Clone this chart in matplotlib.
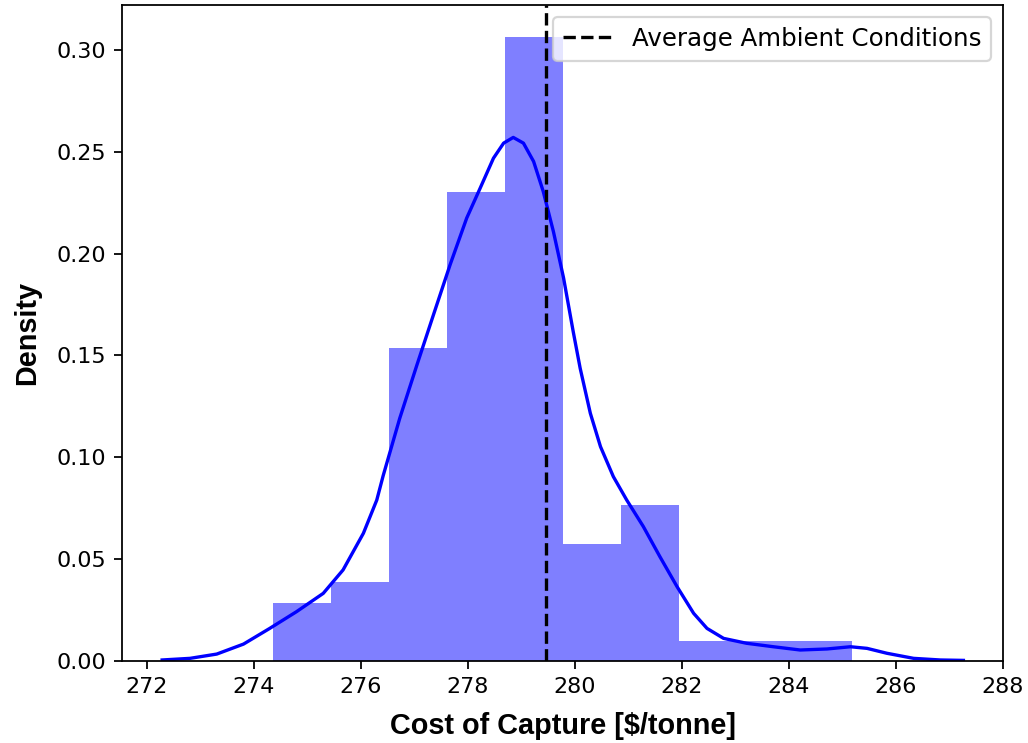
import matplotlib
matplotlib.use("Agg")
import matplotlib.pyplot as plt

# Histogram (density)
bin_edges = [274.37, 275.45, 276.53, 277.61, 278.69, 279.78, 280.86, 281.94, 283.02, 284.10, 285.18]
bin_density = [0.0287, 0.0386, 0.1537, 0.2300, 0.3064, 0.0575, 0.0766, 0.0096, 0.0096, 0.0096]

# KDE curve points
kde_x = [272.29, 272.81, 273.31, 273.81, 274.30, 274.80, 275.30, 275.67, 276.05, 276.30,
         276.42, 276.73, 277.05, 277.36, 277.67, 277.98, 278.23, 278.48, 278.67, 278.85,
         279.04, 279.23, 279.41, 279.60, 279.79, 279.97, 280.10, 280.29, 280.48, 280.72,
         280.97, 281.28, 281.59, 281.91, 282.22, 282.47, 282.78, 283.21, 283.71, 284.21,
         284.71, 285.15, 285.46, 285.83, 286.33, 286.83, 287.26]
kde_y = [0.0005, 0.0013, 0.0034, 0.0083, 0.0160, 0.0242, 0.0332, 0.0447, 0.0627, 0.0790,
         0.0910, 0.1192, 0.1453, 0.1700, 0.1945, 0.2174, 0.2320, 0.2468, 0.2542, 0.2570,
         0.2542, 0.2452, 0.2305, 0.2108, 0.1880, 0.1617, 0.1437, 0.1216, 0.1052, 0.0905,
         0.0790, 0.0660, 0.0512, 0.0365, 0.0234, 0.0160, 0.0111, 0.0087, 0.0070, 0.0054,
         0.0059, 0.0070, 0.0062, 0.0038, 0.0013, 0.0005, 0.0003]

avg_ambient = 279.46
legend_label = "Average Ambient Conditions"
x_ticks = [272, 274, 276, 278, 280, 282, 284, 286, 288]
y_ticks = [0.00, 0.05, 0.10, 0.15, 0.20, 0.25, 0.30]

fig = plt.figure(figsize=(1028/160, 743/160), dpi=160)
ax = fig.add_axes([122/1028, 1 - 661/743, (1003-122)/1028, (661-5)/743])

centers = [(a + b) / 2 for a, b in zip(bin_edges[:-1], bin_edges[1:])]
ax.hist(centers, bins=bin_edges, weights=bin_density, color="blue", alpha=0.5)
ax.plot(kde_x, kde_y, color="blue", lw=1.5, solid_joinstyle="round")
ax.axvline(avg_ambient, color="black", linestyle="--", lw=1.5, label=legend_label)

ax.set_xlim(271.54, 288.0)
ax.set_ylim(0, 0.322)
ax.set_xticks(x_ticks)
ax.set_yticks(y_ticks)
ax.set_yticklabels([f"{v:.2f}" for v in y_ticks])

lab_font = dict(family="Liberation Sans", weight="bold", size=13)
ax.set_xlabel("Cost of Capture [$/tonne]", labelpad=7, **lab_font)
ax.set_ylabel("Density", labelpad=7, **lab_font)
ax.legend(loc="upper right", fontsize=11)

fig.savefig("out.png", dpi=160)
